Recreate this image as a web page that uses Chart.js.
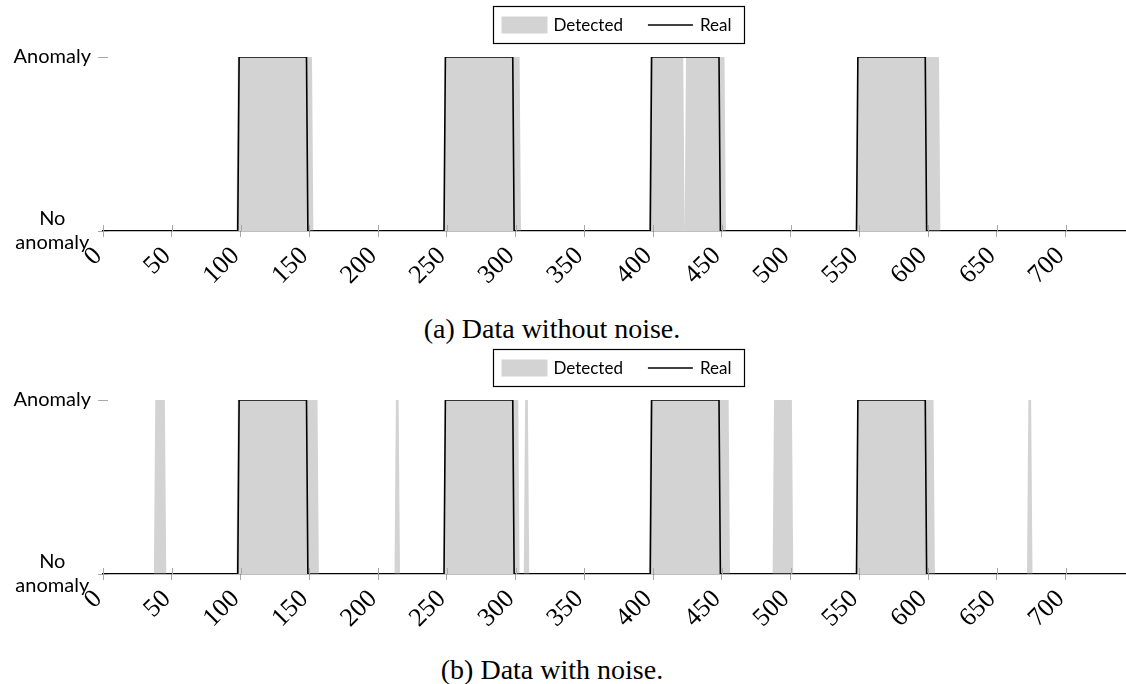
<!DOCTYPE html>
<html><head><meta charset="utf-8">
<script src="https://cdn.jsdelivr.net/npm/chart.js@4/dist/chart.umd.min.js"></script>
<style>
html,body{margin:0;padding:0;background:#fff;}
#wrap{position:relative;width:1126px;height:684px;overflow:hidden;background:#fff;}
.panel{position:absolute;left:0;width:1126px;height:301px;}
.cap{position:absolute;left:0;width:1104px;text-align:center;font-family:'Liberation Serif',serif;font-size:28px;line-height:28px;color:#000;white-space:nowrap;}
</style></head><body>
<div id="wrap">
  <div class="panel" style="top:0"><canvas id="c1" width="1126" height="301"></canvas></div>
  <div class="cap" id="cap1" style="top:315px"></div>
  <div class="panel" style="top:343px"><canvas id="c2" width="1126" height="301"></canvas></div>
  <div class="cap" id="cap2" style="top:656px"></div>
</div>
<script>
// ---- data ----
const xTicks = [0, 50, 100, 150, 200, 250, 300, 350, 400, 450, 500, 550, 600, 650, 700];
const yTickLabels = [['No', 'anomaly'], 'Anomaly'];   // value 0, value 1
const seriesNames = ['Detected', 'Real'];
const xLast = 744;
// intervals [first, last] where the signal equals 1 (Anomaly)
const realAnomalies = [[99, 148], [249, 298], [399, 448], [549, 598]];
const detectedNoNoise = [[98, 152], [249, 303], [398, 422], [424, 452], [549, 608]];
const detectedWithNoise = [[38, 45], [98, 156], [213, 215], [249, 302], [307, 309], [398, 455], [488, 501], [549, 604], [673, 675]];
const captions = ['(a) Data without noise.', '(b) Data with noise.'];

function toPoints(intervals) {
  const pts = [{x: 0, y: 0}];
  intervals.forEach(([a, b]) => {
    pts.push({x: a - 1, y: 0}, {x: a, y: 1}, {x: b, y: 1}, {x: b + 1, y: 0});
  });
  pts.push({x: xLast, y: 0});
  return pts;
}

const crossTicks = {
  id: 'crossTicks',
  afterDraw(chart) {
    const ctx = chart.ctx, xs = chart.scales.x, ys = chart.scales.y, a = chart.chartArea;
    ctx.save();
    ctx.strokeStyle = '#a8a8a8';
    ctx.lineWidth = 1;
    ctx.beginPath();
    xs.ticks.forEach(t => {
      const px = Math.round(xs.getPixelForValue(t.value)) + 0.5;
      ctx.moveTo(px, a.bottom - 6); ctx.lineTo(px, a.bottom);
    });
    ys.ticks.forEach(t => {
      const py = Math.round(ys.getPixelForValue(t.value)) + 0.5;
      ctx.moveTo(a.left, py); ctx.lineTo(a.left + 5, py);
    });
    ctx.stroke();
    ctx.restore();
  }
};

const boxLegend = {
  id: 'boxLegend',
  afterDraw(chart) {
    const ctx = chart.ctx, a = chart.chartArea, ds = chart.data.datasets;
    ctx.save();
    ctx.font = '17px Lato';
    const sw = 46, sh = 17, tg = 6, ig = 25, pl = 8, pr = 13, h = 37, top = 6.5;
    const w0 = ctx.measureText(ds[0].label).width, w1 = ctx.measureText(ds[1].label).width;
    const total = pl + sw + tg + w0 + ig + sw + tg + w1 + pr;
    const left = Math.round((a.left + a.right) / 2 + 3.5 - total / 2) + 0.5;
    const cy = top + h / 2;
    ctx.strokeStyle = '#000'; ctx.lineWidth = 1.2;
    ctx.strokeRect(left, top, Math.round(total), h);
    let x = left + pl;
    ctx.fillStyle = ds[0].backgroundColor;
    ctx.fillRect(x, cy - sh / 2, sw, sh);
    x += sw + tg;
    ctx.fillStyle = '#000'; ctx.textBaseline = 'middle'; ctx.textAlign = 'left';
    ctx.fillText(ds[0].label, x, cy + 0.5);
    x += w0 + ig;
    ctx.strokeStyle = ds[1].borderColor; ctx.lineWidth = 1.6;
    ctx.beginPath(); ctx.moveTo(x, cy); ctx.lineTo(x + sw - 1, cy); ctx.stroke();
    x += sw + tg;
    ctx.fillText(ds[1].label, x, cy + 0.5);
    ctx.restore();
  }
};

function makeChart(id, detected) {
  return new Chart(document.getElementById(id), {
    type: 'line',
    data: {
      datasets: [
        {label: seriesNames[0], data: toPoints(detected), fill: 'origin', backgroundColor: '#d3d3d3',
         borderColor: 'rgba(0,0,0,0)', borderWidth: 0, pointRadius: 0, tension: 0, order: 1},
        {label: seriesNames[1], data: toPoints(realAnomalies), fill: false, borderColor: '#000',
         borderWidth: 1.6, pointRadius: 0, tension: 0, order: 0}
      ]
    },
    options: {
      responsive: false, animation: false, events: [],
      layout: {padding: {top: 57, left: 0, right: 0, bottom: 0}},
      plugins: {legend: {display: false}, tooltip: {enabled: false}, title: {display: false}},
      scales: {
        x: {
          type: 'linear', min: 0, max: xLast,
          afterBuildTicks: s => { s.ticks = xTicks.map(v => ({value: v})); },
          afterFit: s => { s.height = 70; },
          grid: {display: true, drawOnChartArea: false, drawTicks: true, tickLength: 6, color: '#a8a8a8', lineWidth: 1},
          border: {display: true, color: '#000', width: 1.2},
          ticks: {autoSkip: false, minRotation: 45, maxRotation: 45, padding: 4, labelOffset: -5, color: '#000',
                  font: {family: "'Liberation Serif', serif", size: 26}, callback: v => String(v)}
        },
        y: {
          type: 'linear', min: 0, max: 1,
          afterBuildTicks: s => { s.ticks = [{value: 0}, {value: 1}]; },
          afterFit: s => { s.width = 103; },
          grid: {display: true, drawOnChartArea: false, drawTicks: true, tickLength: 5, color: '#a8a8a8', lineWidth: 1},
          border: {display: false},
          ticks: {crossAlign: 'center', padding: 7, color: '#000',
                  font: {family: 'Lato', size: 20}, callback: v => yTickLabels[v]}
        }
      }
    },
    plugins: [crossTicks, boxLegend]
  });
}

document.getElementById('cap1').textContent = captions[0];
document.getElementById('cap2').textContent = captions[1];
Promise.all([document.fonts.load('20px Lato'), document.fonts.load("26px 'Liberation Serif'")])
  .catch(() => {})
  .then(() => {
    makeChart('c1', detectedNoNoise);
    makeChart('c2', detectedWithNoise);
  });
</script>
</body></html>
